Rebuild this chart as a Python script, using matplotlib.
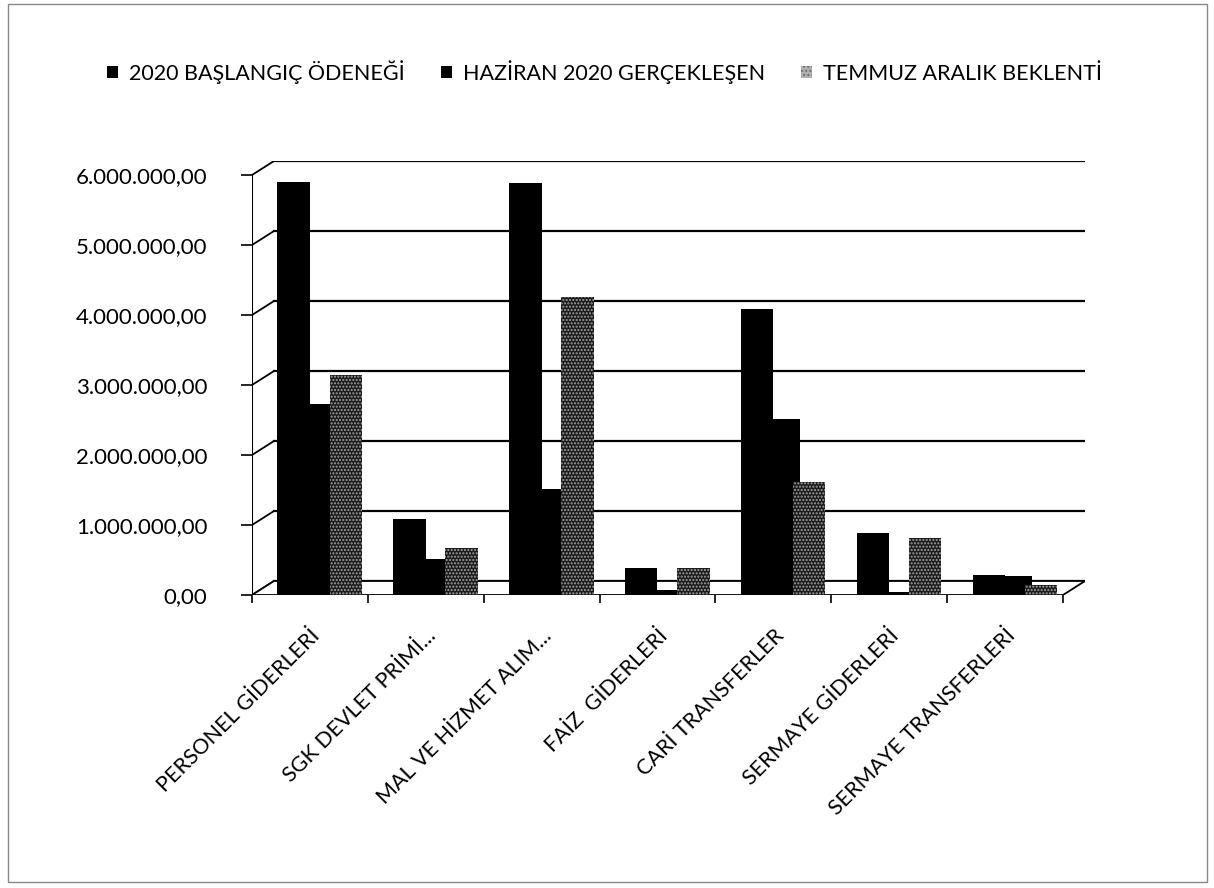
import numpy as np
import matplotlib.pyplot as plt
from matplotlib.patches import Polygon, Rectangle, Patch
from matplotlib.ticker import FuncFormatter

plt.rcParams['font.family'] = ['Lato', 'DejaVu Sans']

categories = ['PERSONEL GİDERLERİ', 'SGK DEVLET PRİMİ...', 'MAL VE HİZMET ALIM...',
              'FAİZ  GİDERLERİ', 'CARİ TRANSFERLER', 'SERMAYE GİDERLERİ',
              'SERMAYE TRANSFERLERİ']
series_names = ['2020 BAŞLANGIÇ ÖDENEĞİ', 'HAZİRAN 2020 GERÇEKLEŞEN', 'TEMMUZ ARALIK BEKLENTİ']
baslangic = [5900000, 1090000, 5880000, 390000, 4080000, 880000, 290000]
haziran = [2730000, 510000, 1510000, 70000, 2520000, 50000, 270000]
beklenti = [3150000, 670000, 4250000, 390000, 1620000, 820000, 140000]
y_ticks = [0, 1000000, 2000000, 3000000, 4000000, 5000000, 6000000]


def tr_format(v, pos=None):
    s = f"{v:,.2f}"
    return s.replace(',', 'X').replace('.', ',').replace('X', '.')


fig = plt.figure(figsize=(12.14, 8.88), dpi=100)
fig.patches.append(Rectangle((0.007, 0.007), 0.987, 0.988, transform=fig.transFigure,
                             fill=False, edgecolor='#888888', linewidth=1))

ax = fig.add_axes([252 / 1214, 1 - 595 / 888, (1085 - 252) / 1214, 434 / 888])
n = len(categories)
dx, dy = 0.19, 200000
x = np.arange(n)
ax.set_xlim(-0.5, n - 0.5 + dx)
ax.set_ylim(0, 6000000 + dy)

# back wall gridlines and left wall connectors
for v in y_ticks:
    ax.plot([-0.5 + dx, n - 0.5 + dx], [v + dy, v + dy], color='black', lw=1.6, zorder=1)
    ax.plot([-0.5, -0.5 + dx], [v, v + dy], color='black', lw=1.3, zorder=1)

# floor
floor = Polygon([(-0.5, 0), (-0.5 + dx, dy), (n - 0.5 + dx, dy), (n - 0.5, 0)],
                closed=True, facecolor='white', edgecolor='black', lw=1.3, zorder=2)
ax.add_patch(floor)
ax.plot([-0.5, -0.5], [0, 6000000], color='black', lw=1.5, zorder=2)

w = 0.28
ax.bar(x + 0.09, haziran, w, bottom=0, color='black', zorder=3)
ax.bar(x - 0.14, baslangic, w, bottom=0, color='black', zorder=4)
ax.bar(x + 0.31, beklenti, w, bottom=0, color='#1c1c1c', edgecolor='#a0a0a0',
       linewidth=0, hatch='.....', zorder=5)

for s in ax.spines.values():
    s.set_visible(False)

ax.set_yticks(y_ticks)
ax.yaxis.set_major_formatter(FuncFormatter(tr_format))
ax.tick_params(axis='y', length=8, width=1.2, pad=24, labelsize=16)
ax.set_xticks(x)
ax.set_xticklabels(categories, rotation=45, ha='right', va='top',
                   rotation_mode='anchor', fontsize=15.5)
ax.set_xticks(np.arange(-0.5, n, 1), minor=True)
ax.tick_params(axis='x', which='major', length=0, pad=22)
ax.tick_params(axis='x', which='minor', length=6, width=1.2)

handles = [Patch(facecolor='black'), Patch(facecolor='black'),
           Patch(facecolor='#b0b0b0', edgecolor='#707070', hatch='....', linewidth=0)]
fig.legend(handles, series_names, loc='center', bbox_to_anchor=(0.498, 0.919), ncol=3,
           frameon=False, fontsize=15.5, handlelength=0.5, handleheight=0.5,
           handletextpad=0.5, columnspacing=1.7)

fig.savefig('out.png', dpi=100)
